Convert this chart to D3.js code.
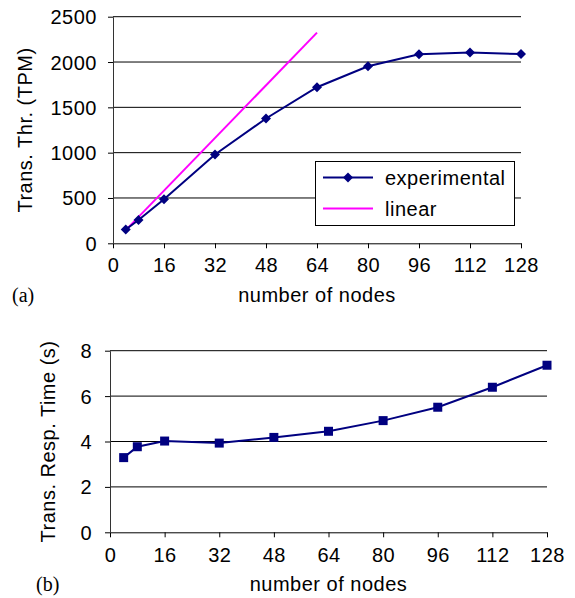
<!DOCTYPE html>
<html><head><meta charset="utf-8">
<script src="https://cdn.jsdelivr.net/npm/d3@7"></script>
<style>
body{margin:0;background:#fff;}
text{font-family:"Liberation Sans",Arial,sans-serif;font-size:20px;letter-spacing:0.5px;fill:#000;}
.serif{font-family:"Liberation Serif","Times New Roman",serif;letter-spacing:0;}
</style></head>
<body>
<script>
const nodes = [4, 8, 16, 32, 48, 64, 80, 96, 112, 128];
const throughput = [152, 257, 485, 980, 1377, 1722, 1953, 2085, 2104, 2088];
const linearNodes = [4, 64];
const linearTput = [145, 2324];
const respTime = [3.29, 3.77, 4.02, 3.93, 4.18, 4.45, 4.92, 5.51, 6.39, 7.36];
const xTicks = [0, 16, 32, 48, 64, 80, 96, 112, 128];
const yTicksA = [0, 500, 1000, 1500, 2000, 2500];
const yTicksB = [0, 2, 4, 6, 8];
const seriesNames = ["experimental", "linear"];

const navy = "#000080", magenta = "#ff00ff";
const svg = d3.select("body").append("svg").attr("width", 575).attr("height", 598);

function panel(opt) {
  const x = d3.scaleLinear().domain([0, 128]).range(opt.xr);
  const y = d3.scaleLinear().domain(opt.yd).range(opt.yr);
  const g = svg.append("g");
  // gridlines
  g.selectAll(".grid").data(opt.yTicks.filter(d => d > 0)).enter().append("line")
    .attr("x1", opt.xr[0]).attr("x2", opt.xr[1])
    .attr("y1", d => y(d)).attr("y2", d => y(d))
    .attr("stroke", "#000").attr("stroke-width", 1);
  // axes
  const xa = g.append("g").attr("transform", `translate(0,${opt.yr[0]})`)
    .call(d3.axisBottom(x).tickValues(xTicks).tickFormat(d3.format("d")).tickSize(5).tickSizeOuter(0).tickPadding(6));
  xa.select(".domain").attr("stroke", "#000");
  xa.selectAll("text").attr("font-size", null).attr("font-family", null).attr("dy", null).attr("y", opt.xLabY);
  const ya = g.append("g").attr("transform", `translate(${opt.xr[0]},0)`)
    .call(d3.axisLeft(y).tickValues(opt.yTicks).tickFormat(d3.format("d")).tickSize(5).tickSizeOuter(0).tickPadding(opt.yPad));
  ya.select(".domain").attr("stroke", "#333");
  ya.selectAll("text").attr("font-size", null).attr("font-family", null).attr("dy", "0.35em");
  svg.selectAll("g.tick line").attr("stroke", "#000");
  // titles
  g.append("text").attr("x", (opt.xr[0] + opt.xr[1]) / 2).attr("y", opt.xTitleY)
    .attr("text-anchor", "middle").text("number of nodes");
  g.append("text").attr("transform", `translate(${opt.yTitleX},${(opt.yr[0] + opt.yr[1]) / 2}) rotate(-90)`)
    .attr("text-anchor", "middle").text(opt.yTitle);
  g.append("text").attr("class", "serif").attr("x", opt.tagX).attr("y", opt.xTitleY)
    .text(opt.tag);
  return {x, y, g};
}

// Panel (a)
const A = panel({xr: [113, 521], yr: [243.3, 16.7], yd: [0, 2500], yTicks: yTicksA,
  xLabY: 29, yPad: 11, xTitleY: 302, yTitleX: 32, yTitle: "Trans. Thr. (TPM)", tagX: 12, tag: "(a)"});
A.g.append("path").datum(linearNodes.map((n, i) => [n, linearTput[i]]))
  .attr("d", d3.line().x(d => A.x(d[0])).y(d => A.y(d[1])))
  .attr("fill", "none").attr("stroke", magenta).attr("stroke-width", 2);
const expData = nodes.map((n, i) => [n, throughput[i]]);
A.g.append("path").datum(expData)
  .attr("d", d3.line().x(d => A.x(d[0])).y(d => A.y(d[1])))
  .attr("fill", "none").attr("stroke", navy).attr("stroke-width", 2);
const diamond = "M0,-5L5,0L0,5L-5,0Z";
A.g.selectAll(".dm").data(expData).enter().append("path")
  .attr("d", diamond).attr("transform", d => `translate(${A.x(d[0])},${A.y(d[1])})`)
  .attr("fill", navy);

// Legend
const lg = A.g.append("g");
lg.append("rect").attr("x", 315.5).attr("y", 161.5).attr("width", 199).attr("height", 64)
  .attr("fill", "#fff").attr("stroke", "#000").attr("stroke-width", 1);
const legY = [177.5, 208.5];
const legC = [navy, magenta];
seriesNames.forEach((s, i) => {
  lg.append("line").attr("x1", 323).attr("x2", 373).attr("y1", legY[i]).attr("y2", legY[i])
    .attr("stroke", legC[i]).attr("stroke-width", 2);
  if (i === 0) lg.append("path").attr("d", diamond).attr("transform", `translate(348,${legY[i]})`).attr("fill", navy);
  lg.append("text").attr("x", 385).attr("y", legY[i]).attr("dy", "0.35em").text(s);
});

// Panel (b)
const B = panel({xr: [110, 547], yr: [532.3, 350.7], yd: [0, 8], yTicks: yTicksB,
  xLabY: 30, yPad: 13, xTitleY: 591, yTitleX: 55, yTitle: "Trans. Resp. Time (s)", tagX: 36, tag: "(b)"});
const rtData = nodes.map((n, i) => [n, respTime[i]]);
B.g.append("path").datum(rtData)
  .attr("d", d3.line().x(d => B.x(d[0])).y(d => B.y(d[1])))
  .attr("fill", "none").attr("stroke", navy).attr("stroke-width", 2);
B.g.selectAll(".sq").data(rtData).enter().append("rect")
  .attr("x", d => B.x(d[0]) - 4.5).attr("y", d => B.y(d[1]) - 4.5)
  .attr("width", 9).attr("height", 9).attr("fill", navy);
</script>
</body></html>
